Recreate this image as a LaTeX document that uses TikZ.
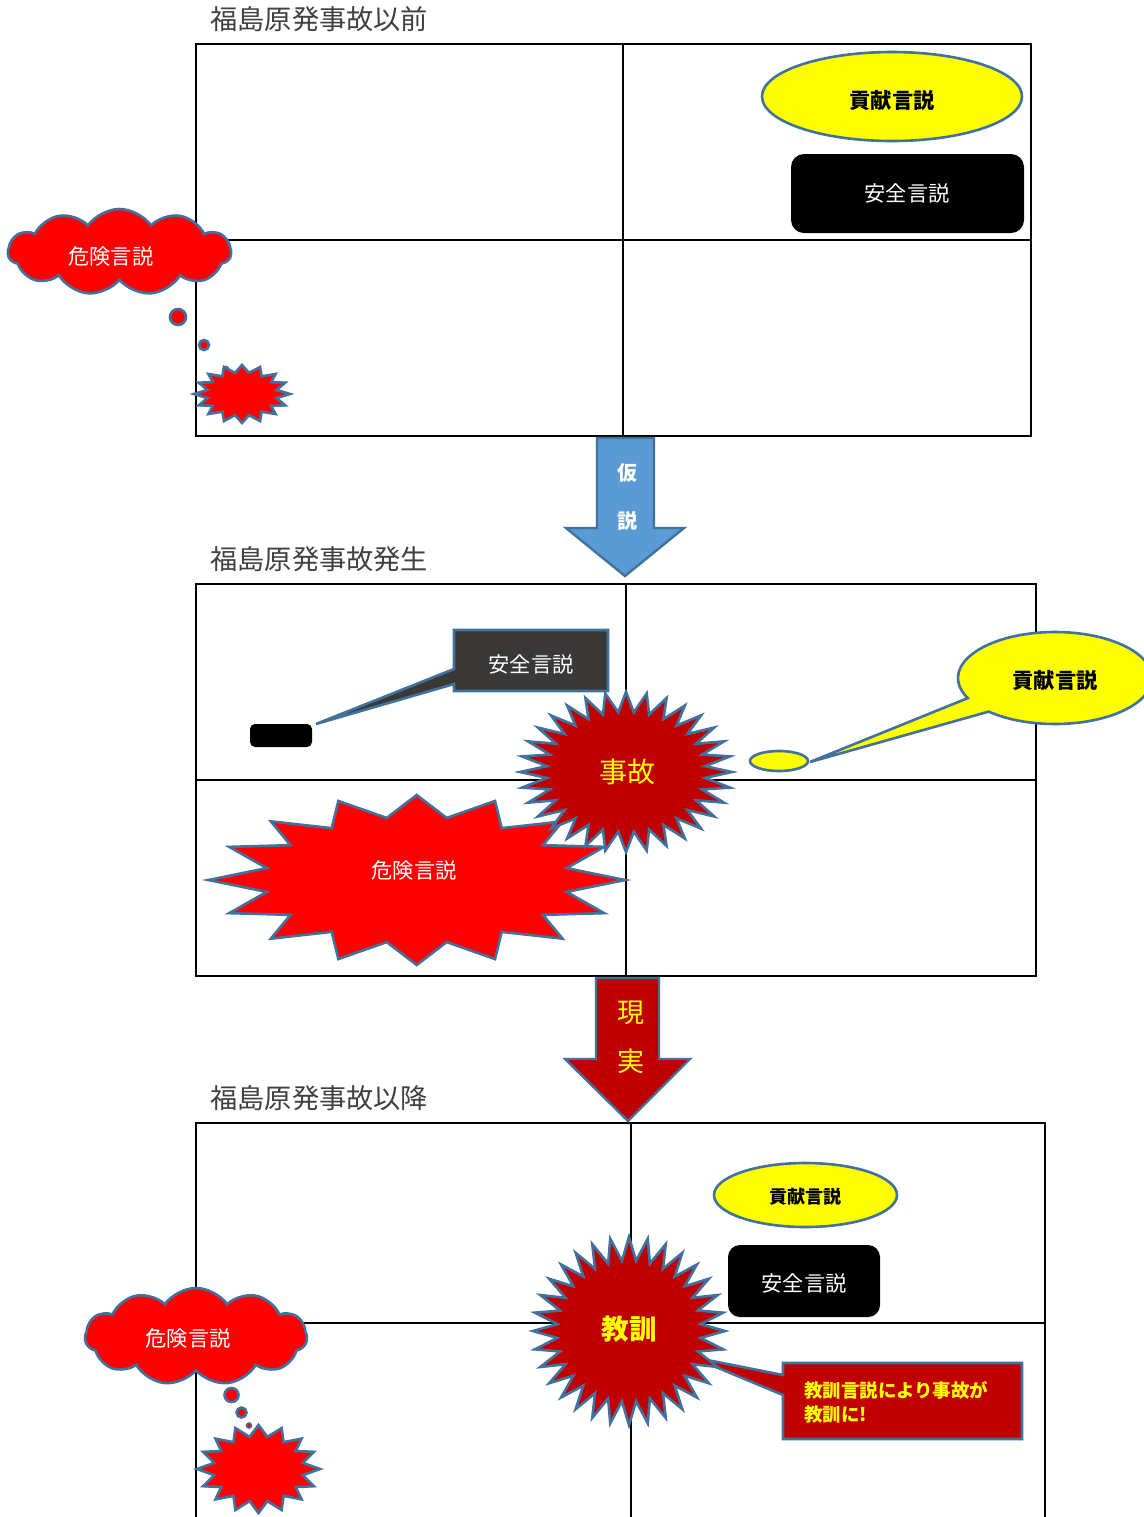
\documentclass[tikz,border=0pt]{standalone}
\usepackage{fontspec}
\setmainfont{Noto Sans CJK JP}
\usetikzlibrary{shapes.geometric,shapes.symbols}
\definecolor{bord}{HTML}{41719C}
\definecolor{dred}{HTML}{C00000}
\definecolor{ablue}{HTML}{5B9BD5}
\definecolor{dgray}{HTML}{3B3838}
\definecolor{tgray}{HTML}{404040}
\definecolor{yel}{HTML}{FFFF00}
\definecolor{rd}{HTML}{FF0000}
\tikzset{
  explo/.pic={\path[pic actions] (0,-1) -- (0.144,-0.73) -- (0.376,-0.93) -- (0.408,-0.61) -- (0.70,-0.69) -- (0.606,-0.41) -- (0.90,-0.39) -- (0.72,-0.14) -- (1,0) -- (0.72,0.14) -- (0.90,0.39) -- (0.606,0.41) -- (0.70,0.69) -- (0.408,0.61) -- (0.376,0.93) -- (0.144,0.73) -- (0,1) -- (-0.144,0.73) -- (-0.376,0.93) -- (-0.408,0.61) -- (-0.70,0.69) -- (-0.606,0.41) -- (-0.90,0.39) -- (-0.72,0.14) -- (-1,0) -- (-0.72,-0.14) -- (-0.90,-0.39) -- (-0.606,-0.41) -- (-0.70,-0.69) -- (-0.408,-0.61) -- (-0.376,-0.93) -- (-0.144,-0.73) -- cycle;},
  star32/.pic={\path[pic actions] (90:1) \foreach \i in {0,...,31}{ -- ({95.625+\i*11.25}:0.75) -- ({101.25+\i*11.25}:1)} -- cycle;},
  panel/.style={draw=black, line width=1pt},
  shp/.style={draw=bord, line width=1.3pt},
  lbl/.style={inner sep=0pt},
  title/.style={lbl, anchor=west, text=tgray, font=\fontsize{13.6}{16}\selectfont},
}
\begin{document}
\begin{tikzpicture}[x=0.5pt,y=-0.5pt]
\clip (0,0) rectangle (1144,1517);
\fill[white] (0,0) rectangle (1144,1517);

% ---------- titles ----------
\node[title] (t1) at (210,19) {福島原発事故以前};
\node[title] (t2) at (210,559) {福島原発事故発生};
\node[title] (t3) at (210,1098) {福島原発事故以降};

% ---------- panel frames ----------
\draw[panel] (196,44) rectangle (1031,436);
\draw[panel] (623,44) -- (623,436);
\draw[panel] (196,240) -- (1031,240);

\draw[panel] (196,584) rectangle (1036,976);
\draw[panel] (626,584) -- (626,976);
\draw[panel] (196,780) -- (1036,780);

\draw[panel] (196,1530) -- (196,1123) -- (1045,1123) -- (1045,1530);
\draw[panel] (631,1123) -- (631,1530);
\draw[panel] (196,1323) -- (1045,1323);

% ---------- panel 1 ----------
\node[ellipse, shp, fill=yel, minimum width=130pt, minimum height=44.5pt, lbl] (k1) at (892,96.5) {};
\node[lbl, font=\fontsize{10.6}{12}\selectfont\bfseries] (k1t) at (892,100) {貢献言説};
\node[rounded corners=6.5pt, fill=black, minimum width=116.5pt, minimum height=39.5pt, lbl] (a1) at (907.5,193.5) {};
\node[lbl, text=white, font=\fontsize{10.6}{12}\selectfont] (a1t) at (907,193) {安全言説};

\node[cloud, cloud puffs=11, cloud puff arc=110, aspect=2.6, shp, fill=rd, minimum width=111.5pt, minimum height=43pt, lbl] (c1) at (119.5,252) {};
\node[lbl, text=white, font=\fontsize{10.6}{12}\selectfont] (c1t) at (111,256) {危険言説};
\filldraw[shp, fill=rd] (178,317) circle[radius=8];
\filldraw[shp, fill=rd] (204,345) circle[radius=5];
\filldraw[shp, line width=0.8pt, fill=rd] (226,369) circle[radius=2.5];
\pic[shp, fill=rd, xscale=48, yscale=29] at (242,394) {explo};

% ---------- arrow 1 ----------
\filldraw[fill=ablue, draw=bord, line width=1.2pt] (597,438) -- (654,438) -- (654,528) -- (684,528) -- (625,576) -- (566,528) -- (597,528) -- cycle;
\node[lbl, text=white, font=\fontsize{10}{12}\selectfont\bfseries] (ar1a) at (627,473) {仮};
\node[lbl, text=white, font=\fontsize{10}{12}\selectfont\bfseries] (ar1b) at (627,521) {説};

% ---------- panel 2 ----------
\filldraw[shp, fill=dgray] (454,630) -- (608,630) -- (608,691) -- (454,691) -- (454,684) -- (316,724) -- (454,669) -- cycle;
\node[lbl, text=white, font=\fontsize{10.6}{12}\selectfont] (a2t) at (531,664) {安全言説};
\node[rounded corners=2.5pt, fill=black, minimum width=31pt, minimum height=11.5pt, lbl] (a2s) at (281,735.5) {};

\filldraw[shp, fill=yel] ([shift={(1055,678)}]154.1:97 and 46) -- (810,762) -- ([shift={(1055,678)}]133.1:97 and 46) arc[start angle=133.1, end angle=-205.9, x radius=97, y radius=46] -- cycle;
\node[lbl, font=\fontsize{10.6}{12}\selectfont\bfseries] (k2t) at (1055,680) {貢献言説};
\node[ellipse, shp, fill=yel, minimum width=29pt, minimum height=10pt, lbl] (k2s) at (779,761) {};

\pic[shp, fill=rd, xscale=208.3, yscale=85] at (416.7,880) {explo};
\node[lbl, text=white, font=\fontsize{10.6}{12}\selectfont] (d2t) at (414,870) {危険言説};

\pic[shp, fill=dred, xscale=106, yscale=80] at (626,772) {star32};
\node[lbl, text=yel, font=\fontsize{14}{16}\selectfont] (j2t) at (627,772) {事故};

% ---------- arrow 2 ----------
\filldraw[fill=dred, draw=bord, line width=1.2pt] (596,978) -- (659,978) -- (659,1059) -- (690,1059) -- (628,1121) -- (565,1059) -- (596,1059) -- cycle;
\node[lbl, text=yel, font=\fontsize{13.5}{16}\selectfont] (ar2a) at (631,1013) {現};
\node[lbl, text=yel, font=\fontsize{13.5}{16}\selectfont] (ar2b) at (631,1061) {実};

% ---------- panel 3 ----------
\node[ellipse, shp, fill=yel, minimum width=91.5pt, minimum height=32pt, lbl] (k3) at (805.5,1195) {};
\node[lbl, font=\fontsize{9}{11}\selectfont\bfseries] (k3t) at (805,1197) {貢献言説};
\node[rounded corners=6pt, fill=black, minimum width=76pt, minimum height=36pt, lbl] (a3) at (804,1281) {};
\node[lbl, text=white, font=\fontsize{10.6}{12}\selectfont] (a3t) at (804,1283) {安全言説};

\filldraw[shp, fill=dred] (783,1363) -- (1022,1363) -- (1022,1439) -- (783,1439) -- (783,1395) -- (692,1357) -- (783,1375) -- cycle;
\node[lbl, anchor=west, align=left, text=yel, font=\fontsize{9.2}{12}\selectfont\bfseries] (kt) at (804,1402) {教訓言説により事故が\\教訓に!};

\pic[shp, fill=dred, xscale=96, yscale=94] at (629,1331) {star32};
\node[lbl, text=yel, font=\fontsize{13.8}{16}\selectfont\bfseries] (k3x) at (629,1329) {教訓};

\node[cloud, cloud puffs=11, cloud puff arc=110, aspect=2.3, shp, fill=rd, minimum width=111pt, minimum height=48.5pt, lbl] (c3) at (196,1336.5) {};
\node[lbl, text=white, font=\fontsize{10.6}{12}\selectfont] (c3t) at (188,1338) {危険言説};
\filldraw[shp, fill=rd] (231.5,1395) circle[radius=7];
\filldraw[shp, fill=rd] (241.5,1412.5) circle[radius=5];
\filldraw[shp, line width=0.8pt, fill=rd] (249,1425.5) circle[radius=2.5];
\pic[shp, fill=rd, xscale=61.5, yscale=44] at (258.5,1469) {explo};
\end{tikzpicture}
\end{document}
